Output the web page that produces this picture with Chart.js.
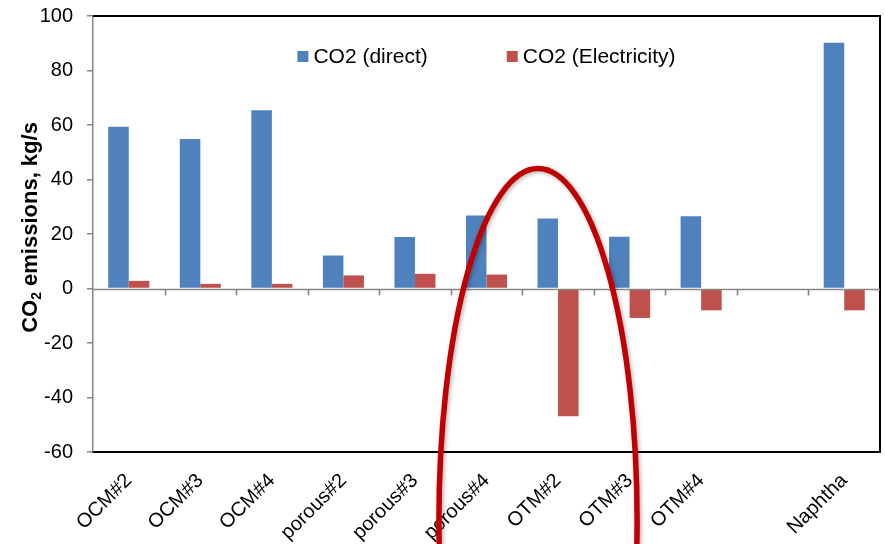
<!DOCTYPE html>
<html>
<head>
<meta charset="utf-8">
<script src="https://cdn.jsdelivr.net/npm/chart.js@4/dist/chart.umd.min.js"></script>
<style>
  html, body { margin: 0; padding: 0; background: #ffffff; }
  #wrap { width: 885px; height: 544px; }
</style>
</head>
<body>
<div id="wrap"><canvas id="c" width="885" height="544"></canvas></div>
<script>
// Process configurations (one slot left empty before the reference case)
const categories = ['OCM#2', 'OCM#3', 'OCM#4', 'porous#2', 'porous#3', 'porous#4',
                    'OTM#2', 'OTM#3', 'OTM#4', '', 'Naphtha'];

// CO2 emissions, kg/s
const co2Direct      = [59.4, 54.9, 65.4, 12.1, 18.9, 26.8, 25.7, 19.0, 26.5, null, 90.2];
const co2Electricity = [2.8, 1.7, 1.7, 4.8, 5.4, 5.1, -46.9, -10.8, -8.0, null, -8.0];

const seriesNames = ['CO2 (direct)', 'CO2 (Electricity)'];
const yMin = -60, yMax = 100, yStep = 20;

// Axis title, split so the 2 can be set as a subscript
const yTitleParts = ['CO', '2', ' emissions, kg/s'];

// Highlight ring around the OTM group, given in axis units
const ring = { centerIndex: 5.72, centerValue: -85, halfWidthCats: 1.385, halfHeightValue: 129 };

const FONT = "'Liberation Sans', Arial, sans-serif";
const BLUE = '#4F81BD';
const RED = '#C0504D';
const AXIS_GREY = '#868686';

function xAt(scale, idx) {
  const i0 = Math.floor(idx);
  const p0 = scale.getPixelForValue(i0);
  const p1 = scale.getPixelForValue(i0 + 1);
  return p0 + (p1 - p0) * (idx - i0);
}

const framePlugin = {
  id: 'frame',
  afterDatasetsDraw(chart) {
    const { ctx, chartArea: a, scales } = chart;
    const x = scales.x, y = scales.y;
    ctx.save();
    // top and right edges of the plot frame
    ctx.strokeStyle = '#000000';
    ctx.lineWidth = 2;
    ctx.beginPath();
    ctx.moveTo(a.left, a.top);
    ctx.lineTo(a.right, a.top);
    ctx.lineTo(a.right, a.bottom);
    ctx.stroke();
    // category axis crossing at zero, with marks between categories
    const y0 = Math.round(y.getPixelForValue(0)) + 0.5;
    ctx.strokeStyle = AXIS_GREY;
    ctx.lineWidth = 1.6;
    ctx.beginPath();
    ctx.moveTo(a.left, y0);
    ctx.lineTo(a.right, y0);
    for (let i = 0; i < categories.length - 1; i++) {
      const bx = Math.round(xAt(x, i + 0.5)) + 0.5;
      ctx.moveTo(bx, y0);
      ctx.lineTo(bx, y0 + 6);
    }
    ctx.stroke();
    ctx.restore();
  },
  afterDraw(chart) {
    const { ctx, chartArea: a, scales } = chart;
    ctx.save();

    // y axis title with subscript, rotated to read upwards
    const big = 'bold 22px ' + FONT, small = 'bold 14px ' + FONT;
    ctx.font = big;
    const w0 = ctx.measureText(yTitleParts[0]).width;
    const w2 = ctx.measureText(yTitleParts[2]).width;
    ctx.font = small;
    const w1 = ctx.measureText(yTitleParts[1]).width;
    const tw = w0 + w1 + w2;
    ctx.save();
    ctx.translate(29, (a.top + a.bottom) / 2 - 6.5);
    ctx.rotate(-Math.PI / 2);
    ctx.fillStyle = '#000000';
    ctx.textBaseline = 'alphabetic';
    ctx.textAlign = 'left';
    let tx = -tw / 2;
    const base = 8;
    ctx.font = big;  ctx.fillText(yTitleParts[0], tx, base); tx += w0;
    ctx.font = small; ctx.fillText(yTitleParts[1], tx, base + 4); tx += w1;
    ctx.font = big;  ctx.fillText(yTitleParts[2], tx, base);
    ctx.restore();

    // legend inside the plot, centred along the top
    ctx.font = '21px ' + FONT;
    ctx.textBaseline = 'middle';
    const box = 11, gapText = 5, gapItems = 79;
    const colors = [BLUE, RED];
    const widths = seriesNames.map(n => box + gapText + ctx.measureText(n).width);
    const total = widths[0] + gapItems + widths[1];
    let lx = (a.left + a.right) / 2 - total / 2;
    const ly = a.top + 40.5;
    seriesNames.forEach((n, i) => {
      ctx.fillStyle = colors[i];
      ctx.fillRect(lx, ly - box / 2, box, box);
      ctx.fillStyle = '#000000';
      ctx.fillText(n, lx + box + gapText, ly + 1);
      lx += widths[i] + gapItems;
    });

    // highlight ring
    const cx = xAt(scales.x, ring.centerIndex);
    const cy = scales.y.getPixelForValue(ring.centerValue);
    const rx = xAt(scales.x, ring.centerIndex + ring.halfWidthCats) - cx;
    const ry = scales.y.getPixelForValue(ring.centerValue - ring.halfHeightValue) - cy;
    ctx.shadowColor = 'rgba(0,0,0,0.3)';
    ctx.shadowBlur = 4;
    ctx.shadowOffsetX = 1.5;
    ctx.shadowOffsetY = 1.5;
    ctx.strokeStyle = '#C00000';
    ctx.lineWidth = 5.5;
    ctx.beginPath();
    ctx.ellipse(cx, cy, rx, Math.abs(ry), 0, 0, Math.PI * 2);
    ctx.stroke();
    ctx.restore();
  }
};

new Chart(document.getElementById('c'), {
  type: 'bar',
  data: {
    labels: categories,
    datasets: [
      { label: seriesNames[0], data: co2Direct, backgroundColor: BLUE,
        categoryPercentage: 0.574, barPercentage: 1.0 },
      { label: seriesNames[1], data: co2Electricity, backgroundColor: RED,
        categoryPercentage: 0.574, barPercentage: 1.0 }
    ]
  },
  options: {
    responsive: false,
    animation: false,
    devicePixelRatio: 1,
    layout: { padding: { top: 16, right: 5, bottom: 0, left: 0 } },
    plugins: { legend: { display: false }, tooltip: { enabled: false } },
    scales: {
      x: {
        grid: { display: false },
        border: { display: true, color: '#000000', width: 2 },
        ticks: {
          autoSkip: false, maxRotation: 45, minRotation: 45,
          color: '#000000', font: { family: FONT, size: 20 }, padding: 9
        },
        afterFit(s) { s.height = 92; }
      },
      y: {
        min: yMin, max: yMax,
        ticks: { stepSize: yStep, color: '#000000', font: { family: FONT, size: 20 }, padding: 14 },
        grid: { drawOnChartArea: false, color: AXIS_GREY, tickLength: 6, lineWidth: 1.5 },
        border: { display: true, color: AXIS_GREY, width: 1.5 },
        afterFit(s) { s.width = 93; s.paddingTop = 0; s.paddingBottom = 0; }
      }
    }
  },
  plugins: [framePlugin]
});
</script>
</body>
</html>
